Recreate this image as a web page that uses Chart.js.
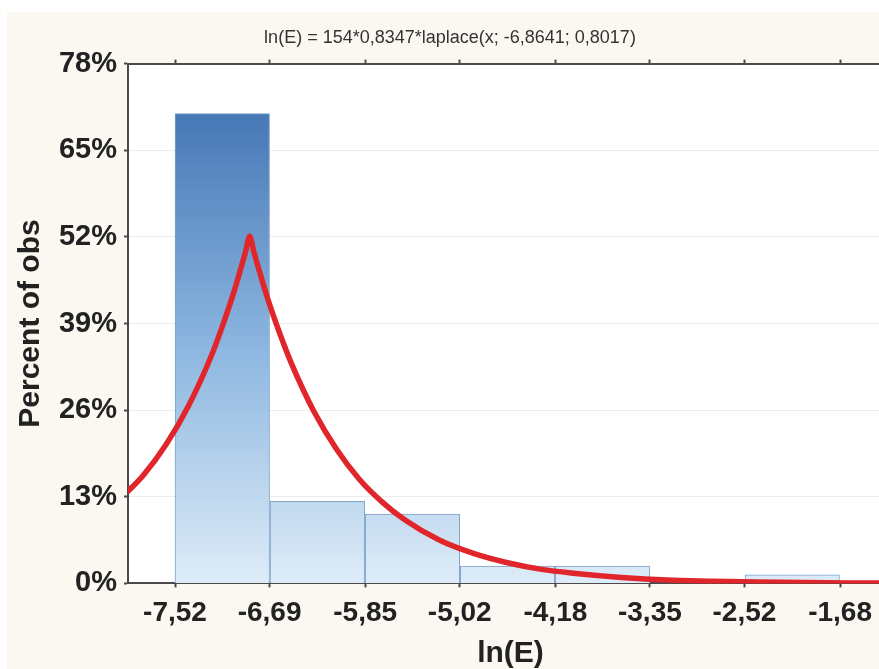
<!DOCTYPE html>
<html>
<head>
<meta charset="utf-8">
<script src="https://cdn.jsdelivr.net/npm/chart.js@4"></script>
<style>
  html, body { margin: 0; padding: 0; background: #fff; overflow: hidden; }
  #wrap { position: absolute; left: 7px; top: 12px; width: 886px; height: 657px; }
</style>
</head>
<body>
<div id="wrap"><canvas id="hist" width="886" height="657"></canvas></div>
<script>
// bin edges shown as tick labels
const tickValues = [-7.52, -6.69, -5.85, -5.02, -4.18, -3.35, -2.52, -1.68];
const binCenters = [-7.105, -6.27, -5.435, -4.6, -3.765, -2.935, -2.1];
const binPercent = [70.5, 12.3, 10.4, 2.6, 2.6, 0, 1.3];

// fitted laplace curve
const curveX = [-7.94, -7.8, -7.6, -7.4, -7.2, -7.1, -7.0, -6.95, -6.9, -6.864, -6.83, -6.78, -6.7, -6.6,
  -6.5, -6.3, -6.1, -5.9, -5.7, -5.5, -5.2, -4.9, -4.6, -4.3, -4.0, -3.6, -3.2, -2.8, -2.4, -2.0, -1.6, -1.21];
const curveY = [13.7, 16.2, 20.8, 26.7, 34.2, 38.8, 43.9, 46.8, 49.8, 52.1, 49.9, 46.9, 42.4, 37.5,
  33.1, 25.8, 20.1, 15.6, 12.2, 9.5, 6.5, 4.5, 3.1, 2.1, 1.5, 0.9, 0.5, 0.33, 0.2, 0.12, 0.07, 0.04];

const yTicks = [0, 13, 26, 39, 52, 65, 78];

const FONT = '"Liberation Sans", Arial, sans-serif';
const fmt = v => v.toFixed(2).replace('.', ',');

const background = {
  id: 'background',
  beforeDraw(chart) {
    const { ctx, chartArea: a } = chart;
    ctx.save();
    ctx.fillStyle = '#fbf8f1';
    ctx.fillRect(0, 0, chart.width, chart.height);
    ctx.fillStyle = '#ffffff';
    ctx.fillRect(a.left, a.top, a.right - a.left, a.bottom - a.top);
    ctx.restore();
  }
};

function barFill(context) {
  const chart = context.chart;
  if (!chart.chartArea) return '#9fc3e6';
  const y = chart.scales.y;
  const g = chart.ctx.createLinearGradient(0, y.getPixelForValue(71), 0, y.getPixelForValue(0));
  g.addColorStop(0, '#4677b6');
  g.addColorStop(0.5, '#8cb6e0');
  g.addColorStop(1, '#deecf8');
  return g;
}

const setTicks = axis => { axis.ticks = tickValues.map(v => ({ value: v })); };

new Chart(document.getElementById('hist'), {
  data: {
    datasets: [
      {
        type: 'line',
        data: curveX.map((x, i) => ({ x: x, y: curveY[i] })),
        borderColor: '#e0262b',
        borderWidth: 5.5,
        pointRadius: 0,
        cubicInterpolationMode: 'monotone',
        fill: false,
        order: 0,
      },
      {
        type: 'bar',
        data: binCenters.map((x, i) => ({ x: x, y: binPercent[i] })),
        backgroundColor: barFill,
        borderColor: '#7fa3c9',
        borderWidth: 1,
        barPercentage: 1,
        categoryPercentage: 1,
        order: 1,
      },
    ],
  },
  options: {
    responsive: false,
    animation: false,
    layout: { padding: 0 },
    scales: {
      x: {
        type: 'linear',
        offset: false,
        min: -7.933,
        max: -1.215,
        afterBuildTicks: setTicks,
        border: { color: '#4a4a4a', width: 2 },
        grid: { offset: false, drawOnChartArea: false, tickLength: 4, tickColor: '#4a4a4a', tickWidth: 2 },
        ticks: {
          callback: v => fmt(v),
          font: { family: FONT, size: 28, weight: 'bold' },
          color: '#222',
          padding: 9,
          maxRotation: 0,
          autoSkip: false,
        },
        title: {
          display: true,
          text: 'ln(E)',
          font: { family: FONT, size: 30, weight: 'bold', lineHeight: 1 },
          color: '#222',
          padding: { top: 0, bottom: 0 },
        },
      },
      x2: {
        type: 'linear',
        position: 'top',
        offset: false,
        min: -7.933,
        max: -1.215,
        afterBuildTicks: setTicks,
        border: { color: '#4a4a4a', width: 2 },
        grid: { offset: false, drawOnChartArea: false, tickLength: 4, tickColor: '#4a4a4a', tickWidth: 2 },
        ticks: { display: false },
      },
      y: {
        min: 0,
        max: 78,
        afterBuildTicks: axis => { axis.ticks = yTicks.map(v => ({ value: v })); },
        afterFit: axis => { axis.width = 121; },
        border: { color: '#4a4a4a', width: 2 },
        grid: { color: '#ececec', tickLength: 4, tickColor: '#4a4a4a', tickWidth: 2 },
        ticks: {
          callback: v => v + '%',
          font: { family: FONT, size: 29, weight: 'bold' },
          color: '#222',
          padding: 7,
        },
        title: {
          display: true,
          text: 'Percent of obs',
          font: { family: FONT, size: 30, weight: 'bold' },
          color: '#222',
          padding: { top: 6, bottom: 0 },
        },
      },
    },
    plugins: {
      legend: { display: false },
      tooltip: { enabled: false },
      title: {
        display: true,
        text: 'ln(E) = 154*0,8347*laplace(x; -6,8641; 0,8017)',
        font: { family: FONT, size: 18, weight: 'normal' },
        color: '#333',
        padding: { top: 15, bottom: 11 },
      },
    },
  },
  plugins: [background],
});
</script>
</body>
</html>
